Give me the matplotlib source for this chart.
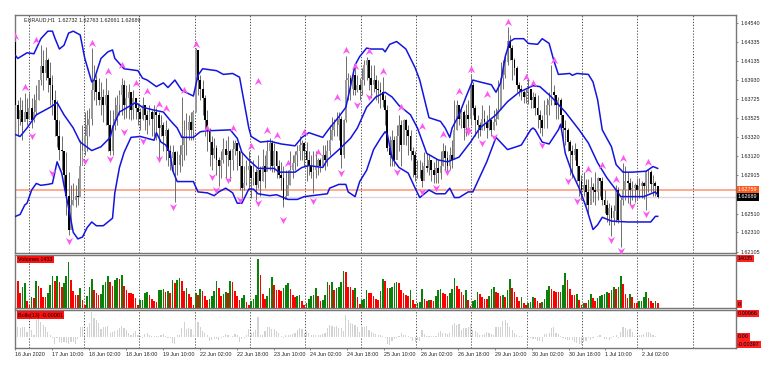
import numpy as np
import matplotlib
matplotlib.use("Agg")
import matplotlib.pyplot as plt

plt.rcParams['font.family'] = ['Liberation Sans', 'DejaVu Sans']

# prices are kept in pips above 1.62000
base_price = 1.62
closes = [166,152,161,148,159,152,163,150,159,172, 193,208,201,214,195,188,172,150,134,119,
          118,92,70,33,60,65,70,69,102,118, 134,145,152,182,193,180,172,175,166,177,
          145,118,145,152,166,177,188,166,174,180, 161,174,163,159,152,166,156,150,159,152,
          159,156,142,145,134,140,118,110,116,103, 103,113,124,134,140,148,140,159,225,193,
          184,174,150,140,127,113,121,108,102,108, 120,113,118,108,120,126,118,102,78,84,
          97,102,89,95,81,97,86,102,95,118, 126,102,118,102,92,89,65,70,81,97,
          105,113,118,124,126,118,108,102,95,97, 102,108,102,113,108,118,129,140,145,145,
          152,113,150,193,195,184,198,182,188,182, 193,209,214,195,188,193,184,182,180,172,
          161,121,113,129,108,134,145,124,150,140, 134,118,113,92,97,97,86,102,99,108,
          97,92,99,94,102,118,110,102,113,108, 140,166,152,159,142,156,152,188,163,150,
          145,140,152,148,142,150,140,148,152,161, 195,198,212,235,227,214,206,188,184,180,
          175,180,184,172,175,163,156,150,142,156, 166,172,180,177,166,172,156,142,140,127,
          118,113,120,102,86,76,81,74,60,79, 76,74,89,86,65,60,49,57,46,54,
          76,44,65,76,86,84,76,78,81,76, 80,84,80,95,95,82,84,80,69]
highs = [234,172,175,172,179,174,179,174,178,188, 188,230,225,228,216,212,198,182,172,150,
         134,118,116,95,81,84,81,89,129,145, 159,161,163,227,209,198,195,191,184,195,
         182,161,161,175,177,182,195,193,188,189, 177,182,172,169,163,175,163,161,166,161,
         166,163,159,156,148,150,142,124,124,118, 118,124,175,150,158,156,159,161,227,204,
         198,193,177,161,142,134,131,124,111,118, 131,129,134,120,129,129,124,118,116,102,
         108,118,102,108,99,113,102,120,113,129, 131,129,126,118,108,106,102,97,97,118,
         113,118,124,134,129,127,127,118,113,118, 118,110,110,124,124,129,145,154,152,159,
         159,155,152,219,201,198,204,209,198,195, 206,214,217,214,209,209,198,193,191,196,
         177,166,134,140,134,145,156,150,152,152, 145,140,122,118,108,108,106,116,115,113,
         108,106,110,108,118,126,124,118,122,129, 172,172,166,163,161,168,172,198,191,166,
         156,148,166,161,156,166,152,161,163,193, 212,214,219,249,241,230,216,208,191,188,
         182,184,195,177,180,179,177,161,156,172, 174,180,209,188,177,175,174,156,150,142,
         129,124,126,120,97,92,95,88,88,90, 84,95,90,89,90,76,65,62,60,60,
         81,79,69,105,102,95,89,86,84,89, 89,86,85,97,98,97,92,86,80]
lows = [159,134,145,129,150,145,152,142,148,156, 172,188,182,193,180,166,156,134,122,108,
        97,76,49,28,58,60,58,60,92,108, 113,118,134,145,172,166,166,156,148,145,
        118,113,113,140,145,156,156,152,153,152, 150,152,152,145,140,150,140,136,145,134,
        134,129,110,134,118,108,102,97,95,63, 92,95,102,108,113,129,129,129,159,177,
        172,156,134,118,102,97,110,92,80,89, 105,89,102,86,97,113,97,76,68,76,
        81,76,67,81,65,78,70,86,78,97, 97,95,95,89,89,76,58,70,74,81,
        89,97,102,108,108,102,86,92,89,73, 89,92,95,102,97,102,113,129,134,134,
        129,99,110,148,172,172,177,177,180,172, 177,188,193,182,174,180,172,169,163,164,
        145,118,102,102,102,113,118,102,129,124, 113,108,90,86,89,89,79,89,95,92,
        86,83,84,84,88,102,97,95,97,99, 129,140,145,142,129,134,140,145,156,134,
        131,134,140,140,131,140,134,140,145,152, 172,184,195,209,214,193,198,180,176,172,
        169,169,168,163,163,156,142,137,134,142, 142,156,166,166,152,152,140,129,124,118,
        92,89,108,86,70,65,70,60,49,65, 63,60,65,70,60,52,42,39,27,39,
        42,41,15,60,65,62,60,65,63,65, 67,68,66,55,74,74,70,70,68]
first_open = 233

upper_x = [0,1,5,8,11,14,16,17,19,21,23,25,28,30,33,34,37,40,42,43,47,53,55,57,61,64,66,69,72,77,79,81,87,90,94,97,99,101,102,106,110,115,121,124,127,133,136,140,143,145,147,149,152,154,159,160,162,165,169,173,175,179,184,186,188,189,192,195,198,201,206,208,210,212,214,216,220,222,226,228,231,233,235,240,241,243,248,250,252,254,258,260,263,267,273,276,278]
upper_y = [219,216,222,221,237,245,245,238,226,230,243,245,241,216,191,193,216,223,225,216,205,203,195,193,186,190,185,193,182,176,198,205,203,199,200,196,169,142,133,127,128,125,123,132,137,132,142,154,164,186,209,218,227,226,226,223,231,234,226,206,193,153,149,142,132,142,156,175,193,191,188,180,190,218,234,237,237,232,231,237,232,214,199,200,198,200,199,191,172,140,122,103,95,95,96,101,99]
mid_x = [0,2,5,9,15,18,21,25,28,33,37,41,42,45,52,55,60,64,67,70,72,77,80,83,93,96,98,101,105,112,114,121,124,127,133,135,140,145,148,152,156,160,163,166,171,174,178,183,187,192,197,201,208,213,218,224,227,232,238,244,248,252,256,260,262,272,277,278]
mid_y = [135,133,142,156,164,169,156,142,127,118,122,132,142,159,169,164,161,159,150,142,132,132,138,139,140,131,116,108,99,99,95,95,100,102,100,108,119,131,142,164,175,180,175,166,156,142,115,108,106,111,127,142,156,170,180,187,186,175,159,140,126,105,89,76,69,69,74,71]
lower_x = [0,2,4,5,7,9,11,14,16,18,20,21,23,25,27,29,31,33,35,38,42,43,45,47,50,54,60,61,63,65,67,68,70,77,79,83,86,88,91,94,96,98,101,103,105,110,113,118,122,125,135,136,140,143,144,147,149,152,155,158,160,161,163,166,170,173,175,179,182,186,188,190,192,196,198,201,204,208,213,218,219,223,224,225,228,231,235,236,238,241,244,247,250,252,254,258,265,272,275,277,278]
lower_y = [48,50,60,62,76,83,81,82,83,106,94,81,57,31,24,26,36,42,38,38,46,73,100,116,132,133,129,137,127,124,115,97,85,85,74,73,70,74,78,73,62,62,77,77,72,70,71,66,66,69,72,78,82,82,74,69,85,97,119,131,138,135,110,100,94,78,68,76,72,72,78,68,68,74,74,90,106,132,119,123,124,140,142,140,127,125,140,146,115,94,78,58,34,39,47,43,42,42,42,48,48]

up_x = [0,4,9,33,40,46,52,57,62,65,73,78,83,94,102,105,109,113,118,125,131,139,143,147,153,159,167,176,185,192,196,197,204,213,221,224,233,248,254,260,263,274]
up_y = [240,186,236,232,203,209,190,181,167,163,182,231,142,142,123,192,140,135,105,138,116,175,225,208,224,203,164,144,136,181,141,205,178,255,196,190,214,98,103,88,110,106]
down_x = [7,16,23,30,41,47,55,62,68,85,87,92,97,105,116,129,141,148,153,165,176,182,187,196,202,207,228,239,243,258,262,267,273]
down_y = [133,94,22,107,109,138,128,109,58,90,76,87,65,62,44,64,94,166,175,95,74,78,95,138,126,132,124,86,64,23,11,59,50]

# volume and bulls heights, scaled to the panel labels below
volume_reads = [150,82,46,65,75,22,10,32,30,82, 67,60,33,32,45,70,97,82,97,78,
                65,77,97,138,85,50,40,39,60,25, 8,35,65,87,55,45,40,42,70,80,
                97,80,68,85,90,88,100,68,55,45, 44,42,30,8,24,25,45,48,38,28,
                20,18,55,56,58,47,52,45,85,75, 85,90,82,52,60,42,32,8,45,38,
                58,50,35,25,26,35,52,82,62,35, 43,48,45,82,78,50,35,25,30,40,
                18,8,22,28,40,148,100,42,27,35, 60,93,70,55,53,52,62,70,77,58,
                40,32,37,40,20,10,15,27,35,38, 60,35,22,25,38,80,70,78,55,60,
                65,80,113,110,65,64,55,60,32,12, 25,26,53,45,44,35,27,25,52,88,
                82,60,62,65,75,80,77,55,45,38, 36,55,25,13,14,18,57,28,22,25,
                23,22,36,55,58,45,42,36,45,58, 90,68,58,47,38,53,23,5,20,25,
                47,42,32,28,27,35,58,65,48,45, 35,40,33,55,87,62,47,32,22,33,
                15,10,15,17,32,30,20,15,18,28, 55,67,57,50,49,47,48,70,105,85,
                57,40,39,42,25,8,15,14,25,42, 30,22,30,37,40,42,47,44,55,65,
                59,65,97,72,42,30,42,32,15,14, 20,21,34,47,30,22,15,22,15]
bulls_reads = [20,30,25,30,28,15,22,20,5,50, 52,45,35,30,15,5,-5,-20,-5,-15,
               -18,-15,-17,-22,-15,-15,-22,-8,30,28, -5,30,40,72,55,50,40,22,28,30,
               32,10,15,18,20,25,32,25,20,10, 5,12,18,5,2,-5,8,12,5,2,
               2,2,3,5,8,2,-3,-3,-18,-20, 5,5,25,45,24,27,22,5,52,45,
               30,17,12,4,-12,-10,-8,-8,-10,-5, 3,7,4,-2,2,7,5,-15,-8,-5,
               4,22,10,15,20,60,5,5,17,28, 29,22,22,17,12,3,-5,4,4,5,
               7,12,20,25,24,12,18,12,4,4, 6,4,4,8,10,25,35,33,30,33,
               25,25,18,65,50,40,38,35,30,15, 28,30,32,20,15,10,8,5,5,3,
               -5,-20,-25,-12,-8,-5,3,10,5,5, 1,-3,-12,-15,-10,-12,20,8,3,2,
               2,3,3,10,18,12,10,8,12,35, 40,35,38,20,25,25,30,38,20,18,
               12,5,5,8,15,10,7,5,28,30, 28,48,50,40,30,20,12,4,2,3,
               -2,-2,-5,-5,-8,-8,-12,-12,-15,7, 7,10,25,30,12,8,3,-3,-8,-10,
               -10,-10,-15,-18,-20,-25,-15,-12,-5,-10, -3,-1,3,5,-2,-8,-8,-10,-3,3,
               5,-5,15,30,25,20,22,15,3,-2, 5,5,8,15,15,10,5,3,-1]

price_ticks = [1.64540,1.64335,1.64135,1.63930,1.63725,1.63525,1.63320,1.63120,1.62915,1.62510,1.62310,1.62105]
time_labels = ["16 Jun 2020","17 Jun 10:00","18 Jun 02:00","18 Jun 18:00","19 Jun 10:00","22 Jun 02:00",
               "22 Jun 18:00","23 Jun 10:00","24 Jun 02:00","24 Jun 18:00","25 Jun 10:00","26 Jun 02:00",
               "26 Jun 18:00","29 Jun 10:00","30 Jun 02:00","30 Jun 18:00","1 Jul 10:00","2 Jul 02:00"]
bid_price = 1.62689
ask_price = 1.62759

W, H = 769, 378
fig = plt.figure(figsize=(W/100, H/100), dpi=100)

def make_axes(top, bottom, left=14.5, right=736):
    return fig.add_axes([left/W, 1-bottom/H, (right-left)/W, (bottom-top)/H])

def tag(x, y, s, fc, color='black', ha='left'):
    fig.text(x/W, 1-y/H, s, fontsize=3.9, color=color, ha=ha, va='center',
             bbox=dict(boxstyle='square,pad=0.25', fc=fc, ec='none'))

ax = make_axes(15, 253)
ax_vol = make_axes(254.5, 308)
ax_bulls = make_axes(309.5, 348)

to_price = lambda v: base_price + np.array(v)/1e4
n = len(closes)
x = np.arange(n)
c = to_price(closes)
o = to_price([first_open] + closes[:-1])

# candles
ax.vlines(x, to_price(lows), to_price(highs), color='#6e6e6e', lw=0.7, zorder=2)
bear = c < o
ax.bar(x[bear], (o-c)[bear], bottom=c[bear], width=0.8, color='black', zorder=3)
ax.bar(x[~bear], (c-o)[~bear], bottom=o[~bear], width=0.8, color='#9a9a9a', zorder=3)

# bollinger bands
ax.plot(upper_x, to_price(upper_y), color='#1414e0', lw=1.1, zorder=4)
ax.plot(mid_x, to_price(mid_y), color='#1414e0', lw=1.1, zorder=4)
ax.plot(lower_x, to_price(lower_y), color='#1414e0', lw=1.1, zorder=4)

# fractals
up_arrow = [(0,1),(1,-1),(0,-0.35),(-1,-1),(0,1)]
down_arrow = [(0,-1),(1,1),(0,0.35),(-1,1),(0,-1)]
ax.plot(up_x, to_price(up_y), ls='none', marker=up_arrow, ms=5.2, color='#ff55f5', mew=0, zorder=5)
ax.plot(down_x, to_price(down_y), ls='none', marker=down_arrow, ms=5.2, color='#ff55f5', mew=0, zorder=5)

ax.axhline(ask_price, color='#ff9d7d', lw=1.2, zorder=1)
ax.axhline(bid_price, color='#e3d3e6', lw=1.0, zorder=1)

ax.set_ylim(base_price + 9.0/1e4, base_price + 262.2/1e4)
ax.yaxis.tick_right()
ax.set_yticks(price_ticks)
ax.set_yticklabels(["%.5f" % p for p in price_ticks])
ax.set_xticks([])

# volumes
volumes = np.array(volume_reads)*94.5
vol_colors = ['#ff0000'] + ['#0a820a' if volumes[i] > volumes[i-1] else '#ff0000' for i in range(1, n)]
ax_vol.bar(x, volumes, width=0.72, color=vol_colors, zorder=2)
ax_vol.set_ylim(0, 15309)
ax_vol.set_xticks([])
ax_vol.set_yticks([])

# bulls power
bulls = np.array(bulls_reads)*1.196e-4
ax_bulls.bar(x, bulls, width=0.5, color='#d2d2d2', zorder=2)
ax_bulls.set_ylim(-0.00397, 0.00966)
ax_bulls.set_yticks([])
ax_bulls.set_xticks(np.arange(len(time_labels))*15.96)
ax_bulls.set_xticklabels(time_labels, ha='left')

for a in (ax, ax_vol, ax_bulls):
    a.set_xlim(-0.43, 311.9)
    a.set_facecolor('white')
    for s in a.spines.values():
        s.set_color('#777777')
        s.set_linewidth(1.0)
    # day separators
    for k in range(13):
        a.axvline(5.8 + k*23.94, color='#333333', lw=0.6, ls=(0, (1.5, 2)), zorder=1)
    a.tick_params(axis='both', labelsize=3.9, length=1.5, width=0.5, color='#555555', pad=1.5, labelcolor='#222222')

fig.text(24/W, 1-20/H, "EURAUD,H1  1.62732 1.62763 1.62661 1.62689", fontsize=3.9, color='#222222', va='center')
tag(738, 189.8, "1.62759", '#ff5a1e', 'white')
tag(738, 197, "1.62689", 'black', 'white')
tag(18, 259.5, "Volumes 1433", '#ff1010')
tag(18, 315, "Bulls(13) -0.00001", '#ff1010')
tag(738, 258.5, "14035", '#ff2020')
tag(738, 304, "0", '#ff2020')
tag(738, 313.5, "0.00966", '#ff2020')
tag(738, 337, "0.00", '#ff2020')
tag(738, 344.5, "-0.00397", '#ff2020')

fig.savefig("out.png", dpi=100)
